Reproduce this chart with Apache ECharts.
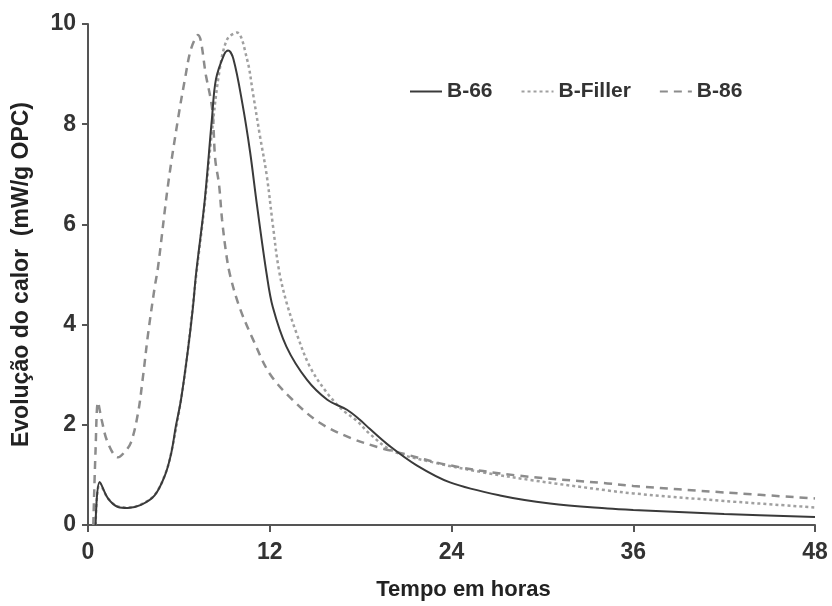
<!DOCTYPE html>
<html>
<head>
<meta charset="utf-8">
<script src="https://cdn.jsdelivr.net/npm/echarts@6/dist/echarts.min.js"></script>
<style>html,body{margin:0;padding:0;background:#fff;}#c{width:832px;height:606px;}</style>
</head>
<body>
<div id="c"></div>
<script>
// Tick values
var xTicks = [0, 12, 24, 36, 48];
var yTicks = [0, 2, 4, 6, 8, 10];

// B-66 (solid)
var b66T = [0.5, 0.77, 1.32, 1.98, 2.64, 3.5, 4.4, 5.08, 5.5, 5.8, 6.14, 6.6, 6.93, 7.13, 7.7, 8.18, 8.45, 9.0, 9.25, 9.6, 10.2, 10.7, 11.15, 11.8, 12.2, 13.1, 14.45, 15.8, 17.1, 17.95, 18.6, 19.9, 21.7, 23.9, 27.2, 30.5, 34.3, 36, 42, 48];
var b66V = [0, 0.86, 0.53, 0.36, 0.34, 0.4, 0.59, 0.99, 1.44, 1.97, 2.5, 3.5, 4.35, 5.0, 6.46, 8.1, 8.9, 9.4, 9.47, 9.3, 8.4, 7.45, 6.4, 5.0, 4.35, 3.56, 2.9, 2.5, 2.3, 2.1, 1.92, 1.58, 1.19, 0.85, 0.59, 0.43, 0.33, 0.3, 0.22, 0.16];

// B-Filler (dotted)
var fillT = [0.5, 0.77, 1.32, 1.98, 2.64, 3.5, 4.4, 5.08, 5.5, 6.14, 6.6, 7.13, 7.7, 8.2, 8.7, 9.2, 9.83, 10.5, 10.9, 11.35, 11.8, 12.2, 12.6, 13.1, 13.8, 14.65, 15.8, 16.8, 17.75, 18.6, 20.1, 22.8, 26.1, 29.4, 34.3, 36, 42, 48];
var fillV = [0, 0.84, 0.53, 0.37, 0.35, 0.41, 0.6, 1.0, 1.45, 2.5, 3.5, 4.95, 6.4, 7.9, 9.1, 9.7, 9.83, 9.3, 8.6, 7.77, 6.98, 6.0, 5.1, 4.45, 3.8, 3.16, 2.63, 2.3, 2.08, 1.82, 1.48, 1.25, 1.05, 0.89, 0.69, 0.63, 0.48, 0.35];

// B-86 (dashed)
var b86T = [0.35, 0.5, 0.66, 0.9, 1.3, 1.98, 2.4, 2.84, 3.3, 3.63, 3.96, 4.4, 4.62, 5.28, 5.94, 6.4, 6.8, 7.26, 7.8, 8.2, 8.4, 8.65, 8.85, 9.1, 9.37, 10.0, 10.9, 12.0, 13.5, 15.3, 17.4, 19.3, 20.6, 23.9, 28.3, 34.3, 36, 42, 48];
var b86V = [0, 1.5, 2.45, 2.1, 1.65, 1.35, 1.45, 1.65, 2.23, 2.96, 3.8, 4.74, 5.14, 6.78, 8.1, 8.9, 9.5, 9.78, 8.95, 8.3, 7.3, 6.8, 6.1, 5.47, 5.0, 4.35, 3.7, 3.02, 2.5, 2.04, 1.73, 1.54, 1.44, 1.19, 0.99, 0.83, 0.78, 0.65, 0.53];

function pairs(t, v) { return t.map(function (x, i) { return [x, v[i]]; }); }

var FONT = 'Liberation Sans, Arial, sans-serif';
var chart = echarts.init(document.getElementById('c'), null, {renderer: 'canvas'});
chart.setOption({
  animation: false,
  backgroundColor: '#fff',
  grid: {left: 88, right: 17, top: 24, bottom: 76},
  legend: {
    left: 404, top: 76,
    itemWidth: 32, itemHeight: 14, itemGap: 28,
    itemStyle: {color: 'transparent', borderColor: 'transparent', borderWidth: 0},
    textStyle: {fontFamily: FONT, fontWeight: 'bold', fontSize: 21, color: '#333'},
    data: ['B-66', 'B-Filler', 'B-86']
  },
  xAxis: {
    type: 'value', min: xTicks[0], max: xTicks[xTicks.length - 1], interval: 12,
    name: 'Tempo em horas', nameLocation: 'middle', nameGap: 54,
    nameTextStyle: {fontFamily: FONT, fontWeight: 'bold', fontSize: 22, color: '#222', padding: [0, 0, 0, 24]},
    axisLine: {lineStyle: {color: '#555', width: 2}},
    axisTick: {length: 7, lineStyle: {color: '#555', width: 2}},
    axisLabel: {fontFamily: FONT, fontWeight: 'bold', fontSize: 23, color: '#333', margin: 16},
    splitLine: {show: false}
  },
  yAxis: {
    type: 'value', min: yTicks[0], max: yTicks[yTicks.length - 1], interval: 2,
    name: 'Evolução do calor  (mW/g OPC)', nameLocation: 'middle', nameGap: 55,
    nameTextStyle: {fontFamily: FONT, fontWeight: 'bold', fontSize: 23, color: '#222'},
    axisLine: {show: true, lineStyle: {color: '#555', width: 2}},
    axisTick: {show: true, length: 6, lineStyle: {color: '#555', width: 2}},
    axisLabel: {fontFamily: FONT, fontWeight: 'bold', fontSize: 23, color: '#333', margin: 12},
    splitLine: {show: false}
  },
  series: [
    {name: 'B-66', type: 'line', data: pairs(b66T, b66V), showSymbol: false, symbol: 'none',
     smooth: 0.35,
     lineStyle: {color: '#3a3a3a', width: 2}, itemStyle: {color: '#3a3a3a'}, z: 3},
    {name: 'B-Filler', type: 'line', data: pairs(fillT, fillV), showSymbol: false, symbol: 'none',
     smooth: 0.35,
     lineStyle: {color: '#a0a0a0', width: 2.5, type: [3, 3]}, itemStyle: {color: '#a0a0a0'}, z: 2},
    {name: 'B-86', type: 'line', data: pairs(b86T, b86V), showSymbol: false, symbol: 'none',
     smooth: 0.35,
     lineStyle: {color: '#8c8c8c', width: 2.5, type: [8, 6]}, itemStyle: {color: '#8c8c8c'}, z: 2}
  ]
});
</script>
</body>
</html>
